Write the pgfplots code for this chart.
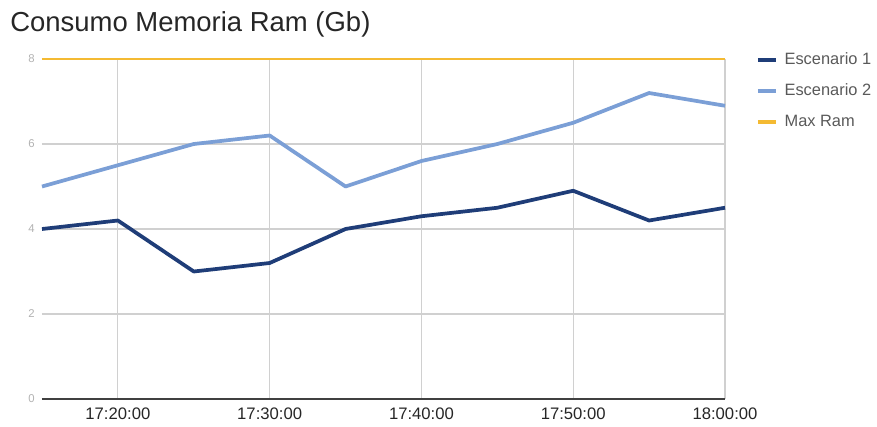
\documentclass[border=0pt]{standalone}
\usepackage{pgfplots}
\pgfplotsset{compat=1.18}
\usepackage{fontspec}
\setmainfont{Liberation Sans}
\definecolor{esc1}{HTML}{1F3D78}
\definecolor{esc2}{HTML}{7B9FD6}
\definecolor{maxram}{HTML}{F4BA32}
\definecolor{gridc}{HTML}{D0D0D0}
\begin{document}
\begin{tikzpicture}
\useasboundingbox (0,0) rectangle (657.75pt,319.5pt);
\node[anchor=base west, inner sep=0pt, text=black!85, font=\fontsize{20.6}{22}\selectfont] at (7.5pt,296pt) {Consumo Memoria Ram (Gb)};
\begin{axis}[
  at={(31.5pt,20.25pt)}, anchor=south west,
  scale only axis, width=512.25pt, height=255pt,
  xmin=15, xmax=60, ymin=0, ymax=8,
  xtick={20,30,40,50,60},
  xticklabels={17:20:00,17:30:00,17:40:00,17:50:00,18:00:00},
  ytick={0,2,4,6,8},
  grid=major,
  major grid style={gridc, line width=0.9pt},
  axis line style={draw=none},
  axis x line*=bottom, axis y line*=left,
  tick style={draw=none},
  xticklabel style={font=\fontsize{12.5}{14}\selectfont, text=black!85, yshift=-3pt},
  yticklabel style={font=\fontsize{8.5}{10}\selectfont, text=black!30, xshift=-2pt},
  /pgf/number format/assume math mode=true,
  clip=false,
  legend style={at={(axis description cs:1,1)}, anchor=north west, xshift=20pt, yshift=8pt,
    draw=none, fill=none, font=\fontsize{12.3}{14}\selectfont, text=black!65,
    row sep=11pt, nodes={inner sep=1pt}},
  legend cell align=left,
  legend image code/.code={\draw[#1, line width=3pt] (0pt,0pt) -- (13.5pt,0pt); \path[draw=none] (0pt,0pt) -- (19pt,0pt);},
]
\addplot[esc1, line width=2.8pt, line join=round] coordinates {
 (15,4.0) (20,4.2) (25,3.0) (30,3.2) (35,4.0) (40,4.3) (45,4.5) (50,4.9) (55,4.2) (60,4.5)};
\addlegendentry{Escenario 1}
\addplot[esc2, line width=2.8pt, line join=round] coordinates {
 (15,5.0) (20,5.5) (25,6.0) (30,6.2) (35,5.0) (40,5.6) (45,6.0) (50,6.5) (55,7.2) (60,6.9)};
\addlegendentry{Escenario 2}
\addplot[maxram, line width=2.2pt] coordinates {
 (15,8) (20,8) (25,8) (30,8) (35,8) (40,8) (45,8) (50,8) (55,8) (60,8)};
\addlegendentry{Max Ram}
\draw[black!75, line width=1.5pt] (axis cs:15,0) -- (axis cs:60,0);
\end{axis}
\end{tikzpicture}
\end{document}
